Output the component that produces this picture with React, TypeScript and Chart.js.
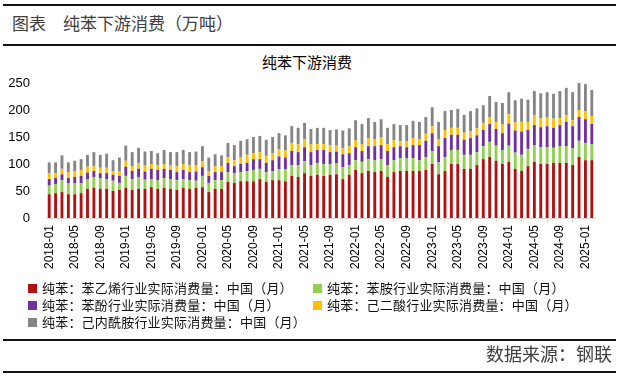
import React, { useEffect, useRef } from "react";
import { Chart, registerables } from "chart.js";

Chart.register(...registerables);

// Monthly categories 2018-01 .. 2025-02
const startYear = 2018;
const monthCount = 86;
const categories: string[] = [];
for (let i = 0; i < monthCount; i++) {
  const y = startYear + Math.floor(i / 12);
  const m = (i % 12) + 1;
  categories.push(`${y}-${m < 10 ? "0" + m : m}`);
}

const yTicks = [0, 50, 100, 150, 200, 250];

// 苯乙烯
const styrene = [
  44, 46, 48, 44, 44, 46, 54, 56, 54, 54, 50, 52, 56, 52,
  54, 54, 57, 54, 56, 54, 52, 56, 54, 56, 57, 48, 54, 54, 67,
  65, 68, 68, 68, 72, 67, 70, 70, 68, 78, 76, 83, 78, 80,
  78, 80, 81, 72, 80, 89, 83, 87, 85, 87, 76, 85, 87, 87, 87,
  87, 89, 100, 81, 87, 100, 100, 91, 91, 98, 109, 113, 106, 100,
  104, 91, 87, 96, 104, 100, 100, 102, 102, 102, 98, 113, 107, 107,
];
// 苯胺
const aniline = [
  16, 17, 22, 20, 20, 18, 17, 20, 20, 18, 19, 13, 22, 20,
  22, 17, 15, 16, 18, 18, 18, 16, 16, 13, 21, 17, 16, 16, 18,
  18, 17, 19, 21, 19, 18, 17, 20, 22, 20, 22, 22, 20, 22,
  22, 20, 20, 22, 18, 18, 21, 22, 22, 22, 22, 22, 24, 24, 24,
  20, 24, 24, 22, 26, 26, 26, 26, 26, 24, 24, 28, 28, 26,
  30, 30, 30, 32, 31, 31, 31, 28, 31, 31, 31, 30, 32, 30,
];
// 苯酚
const phenol = [
  12, 11, 11, 10, 12, 14, 13, 11, 9, 11, 11, 13, 17, 15,
  15, 15, 19, 19, 17, 17, 15, 17, 15, 17, 16, 13, 15, 15, 17,
  13, 15, 15, 20, 18, 17, 20, 24, 22, 26, 24, 26, 24, 24,
  26, 22, 22, 24, 22, 24, 20, 24, 26, 26, 26, 24, 22, 20, 24,
  28, 30, 33, 30, 35, 28, 28, 28, 31, 31, 30, 33, 31, 31,
  41, 41, 43, 35, 37, 37, 39, 37, 39, 45, 41, 44, 44, 37,
];
// 己二酸
const adipic = [
  11, 9, 10, 11, 11, 11, 11, 9, 10, 10, 7, 9, 11, 9,
  11, 11, 9, 9, 9, 9, 11, 11, 13, 11, 11, 9, 11, 11, 11,
  11, 13, 15, 11, 13, 13, 13, 13, 13, 15, 15, 15, 15, 11,
  11, 13, 11, 11, 13, 13, 13, 15, 13, 15, 13, 13, 9, 11, 13,
  11, 13, 13, 13, 15, 13, 13, 13, 13, 13, 13, 13, 13, 17,
  17, 15, 18, 15, 19, 17, 17, 17, 13, 13, 11, 13, 15, 15,
];
// 己内酰胺
const caprolactam = [
  20, 20, 25, 18, 19, 20, 22, 26, 24, 26, 20, 25, 28, 26,
  28, 26, 24, 22, 26, 24, 26, 26, 24, 26, 28, 25, 22, 20, 26,
  28, 30, 29, 30, 30, 30, 30, 30, 28, 31, 30, 30, 28, 30,
  30, 28, 30, 33, 33, 37, 37, 37, 32, 33, 30, 30, 30, 30, 32,
  32, 31, 35, 32, 35, 33, 35, 33, 37, 37, 33, 39, 37, 39,
  41, 41, 43, 41, 44, 46, 46, 46, 50, 50, 52, 50, 50, 48,
];

const seriesNames = [
  "纯苯：苯乙烯行业实际消费量：中国（月）",
  "纯苯：苯胺行业实际消费量：中国（月）",
  "纯苯：苯酚行业实际消费量：中国（月）",
  "纯苯：己二酸行业实际消费量：中国（月）",
  "纯苯：己内酰胺行业实际消费量：中国（月）",
];
const seriesColors = ["#B01212", "#92D050", "#7030A0", "#FFC000", "#858585"];
const seriesData = [styrene, aniline, phenol, adipic, caprolactam];

const CJK = '"Noto Sans CJK SC", "Noto Sans", sans-serif';

function LegendItem({ name, color, left, top }: { name: string; color: string; left: number; top: number }) {
  return (
    <div style={{ position: "absolute", left, top, height: 16, display: "flex", alignItems: "center", whiteSpace: "nowrap" }}>
      <div style={{ width: 9, height: 9, background: color, marginRight: 5 }} />
      <span style={{ fontFamily: CJK, fontSize: 13, letterSpacing: "0.2px", color: "#111", lineHeight: "16px" }}>{name}</span>
    </div>
  );
}

export default function App() {
  const canvasRef = useRef<HTMLCanvasElement | null>(null);

  useEffect(() => {
    const canvas = canvasRef.current;
    if (!canvas) return;
    const chart = new Chart(canvas, {
      type: "bar",
      data: {
        labels: categories,
        datasets: seriesData.map((d, i) => ({
          label: seriesNames[i],
          data: d,
          backgroundColor: seriesColors[i],
          borderWidth: 0,
          categoryPercentage: 1,
          barPercentage: 0.45,
          stack: "s",
        })),
      },
      options: {
        responsive: false,
        animation: false,
        devicePixelRatio: 1,
        layout: { padding: { top: 43, right: 24, left: 0, bottom: 0 } },
        plugins: {
          legend: { display: false },
          title: { display: false },
          tooltip: { enabled: false },
        },
        scales: {
          x: {
            stacked: true,
            grid: {
              offset: true,
              drawOnChartArea: false,
              drawTicks: true,
              tickLength: 4,
              color: "#d9d9d9",
            },
            border: { display: true, color: "#d9d9d9" },
            ticks: {
              autoSkip: false,
              maxRotation: 90,
              minRotation: 90,
              padding: 3,
              color: "#000",
              font: { family: '"Liberation Sans", Arial, sans-serif', size: 12 },
              callback: (_v: any, i: number) => (i % 4 === 0 ? categories[i] : null),
            },
            afterFit: (s: any) => {
              s.height = 62;
            },
          },
          y: {
            stacked: true,
            min: yTicks[0],
            max: yTicks[yTicks.length - 1],
            grid: { display: false },
            border: { display: false },
            afterBuildTicks: (s: any) => {
              s.ticks = yTicks.map((v) => ({ value: v }));
            },
            ticks: {
              padding: 8,
              color: "#000",
              font: { family: '"Liberation Sans", Arial, sans-serif', size: 13 },
            },
            afterFit: (s: any) => {
              s.width = 46;
            },
          },
        },
      },
    });
    return () => chart.destroy();
  }, []);

  const line = (top: number) => (
    <div style={{ position: "absolute", left: 3, width: 613, top, height: 1.5, background: "#111" }} />
  );

  return (
    <div style={{ position: "absolute", left: 0, top: 0, width: 619, height: 376, background: "#fff", overflow: "hidden" }}>
      {line(4)}
      <div style={{ position: "absolute", left: 12, top: 12, fontFamily: CJK, fontSize: 17, lineHeight: "22px", color: "#404040", whiteSpace: "nowrap" }}>
        图表　纯苯下游消费（万吨）
      </div>
      {line(44)}
      <div style={{ position: "absolute", left: 0, width: 614, top: 52, textAlign: "center", fontFamily: CJK, fontSize: 15, lineHeight: "20px", color: "#000" }}>
        纯苯下游消费
      </div>
      <canvas ref={canvasRef} width={619} height={240} style={{ position: "absolute", left: 0, top: 40, width: 619, height: 240 }} />
      <LegendItem name={seriesNames[0]} color={seriesColors[0]} left={28} top={280} />
      <LegendItem name={seriesNames[1]} color={seriesColors[1]} left={313} top={280} />
      <LegendItem name={seriesNames[2]} color={seriesColors[2]} left={28} top={297} />
      <LegendItem name={seriesNames[3]} color={seriesColors[3]} left={313} top={297} />
      <LegendItem name={seriesNames[4]} color={seriesColors[4]} left={28} top={314} />
      {line(339)}
      <div style={{ position: "absolute", right: 7, top: 341, fontFamily: CJK, fontSize: 18, lineHeight: "24px", color: "#404040", whiteSpace: "nowrap" }}>
        数据来源：钢联
      </div>
      {line(371)}
    </div>
  );
}
